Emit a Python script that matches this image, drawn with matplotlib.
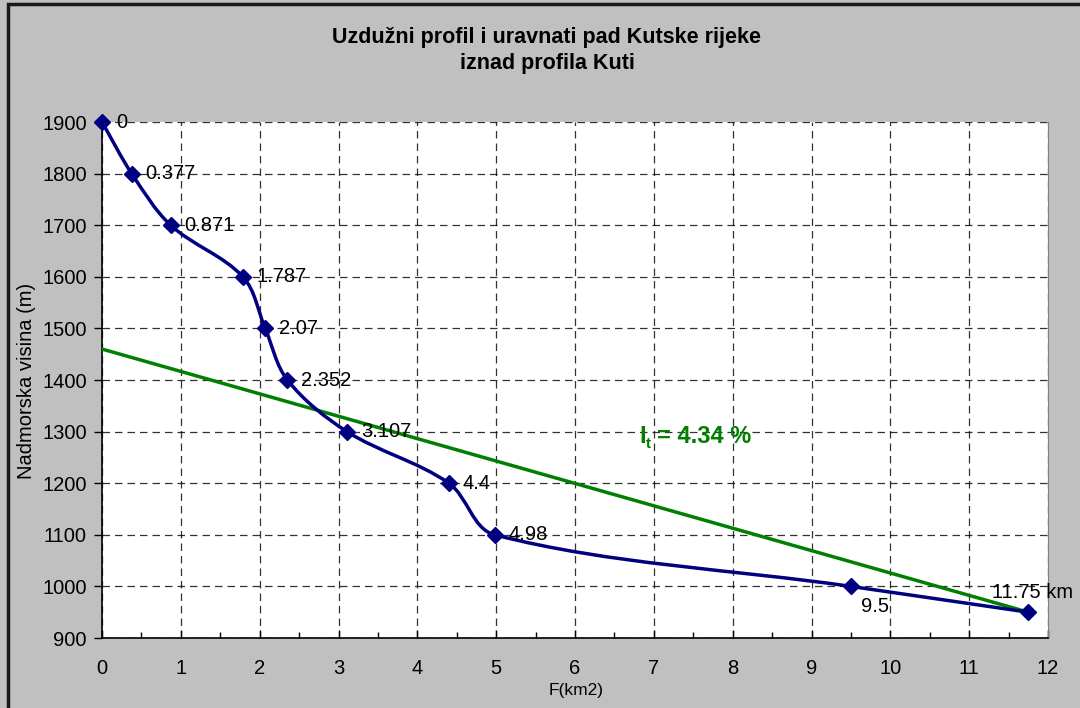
import matplotlib
matplotlib.use("Agg")
import matplotlib.pyplot as plt
from matplotlib.path import Path
from matplotlib.patches import PathPatch, Rectangle
import numpy as np

plt.rcParams['font.family'] = ['Liberation Sans', 'DejaVu Sans']

distance_km = [0, 0.377, 0.871, 1.787, 2.07, 2.352, 3.107, 4.4, 4.98, 9.5, 11.75]
elevation_m = [1900, 1800, 1700, 1600, 1500, 1400, 1300, 1200, 1100, 1000, 950]
point_labels = ["0", "0.377", "0.871", "1.787", "2.07", "2.352", "3.107", "4.4", "4.98", "9.5", "11.75 km"]
trend_x = [0, 11.75]
trend_y = [1460, 950]

W, H = 1080, 708
fig = plt.figure(figsize=(W / 100, H / 100), dpi=100)
fig.patch.set_facecolor('#c0c0c0')

# outer frame
fig.add_artist(Rectangle((8 / W, -0.1), 1.2, (H - 4) / H + 0.1, transform=fig.transFigure,
                         fill=False, edgecolor='#1a1a1a', linewidth=2.5))

l, r, b, t = 102, 1048, 638, 122
ax = fig.add_axes([l / W, (H - b) / H, (r - l) / W, (b - t) / H])
ax.set_facecolor('white')
ax.set_xlim(0, 12)
ax.set_ylim(900, 1900)
ax.set_xticks(range(0, 13))
ax.set_xticks(np.arange(0.5, 12, 1.0), minor=True)
ax.set_yticks(range(900, 1901, 100))
ax.grid(True, which='major', color='#000000', linestyle=(0, (6, 4)), linewidth=0.9, alpha=0.8)
ax.set_axisbelow(True)
ax.tick_params(axis='x', which='major', direction='in', length=6, width=1, labelsize=14.5, pad=15, colors='black')
ax.tick_params(axis='x', which='minor', direction='in', length=4, width=1)
ax.tick_params(axis='y', which='major', direction='out', length=6, width=1, labelsize=14.5, pad=5)
for s in ['left', 'bottom']:
    ax.spines[s].set_color('black')
    ax.spines[s].set_linewidth(1.2)
ax.spines['top'].set_visible(False)
ax.spines['right'].set_color('#808080')

# trend line
ax.plot(trend_x, trend_y, color='#008000', linewidth=2.5, zorder=3)

# smoothed profile line (Bezier through points, computed in pixel space)
pw, ph = (r - l), (b - t)
P = np.array([[x / 12 * pw, (y - 900) / 1000 * ph] for x, y in zip(distance_km, elevation_m)])
n = len(P)
tang = []
for i in range(n):
    a = P[i - 1] if i > 0 else P[i]
    c = P[i + 1] if i + 1 < n else P[i]
    d = c - a
    tang.append(d / np.linalg.norm(d))
verts = [P[0]]
codes = [Path.MOVETO]
for i in range(n - 1):
    p1, p2 = P[i], P[i + 1]
    seg = np.linalg.norm(p2 - p1)
    c1 = p1 + tang[i] * seg / 3
    c2 = p2 - tang[i + 1] * seg / 3
    verts += [c1, c2, p2]
    codes += [Path.CURVE4] * 3
verts = np.array(verts)
data_verts = np.column_stack([verts[:, 0] / pw * 12, verts[:, 1] / ph * 1000 + 900])
ax.add_patch(PathPatch(Path(data_verts, codes), facecolor='none', edgecolor='#000080',
                       linewidth=2.5, zorder=4))
ax.plot(distance_km, elevation_m, linestyle='none', marker='D', markersize=8,
        color='#000080', zorder=5, clip_on=False)

px2pt = 0.72
for i, (x, y, lab) in enumerate(zip(distance_km, elevation_m, point_labels)):
    if lab == "9.5":
        off = (10, -20)
    elif lab.endswith("km"):
        off = (-36, 20)
    else:
        off = (14, 0)
    ax.annotate(lab, (x, y), xytext=(off[0] * px2pt, off[1] * px2pt), textcoords='offset points',
                ha='left', va='center', fontsize=14.5, color='black', zorder=6, annotation_clip=False)

# slope annotation: I with subscript t
tx, ty = 7.55, 1290
ax.annotate("I", (tx, ty), xytext=(-58 * px2pt, 0), textcoords='offset points',
            color='#008000', fontsize=17, fontweight='bold', ha='left', va='center', zorder=6)
ax.annotate("t", (tx, ty), xytext=(-51 * px2pt, -7 * px2pt), textcoords='offset points',
            color='#008000', fontsize=11, fontweight='bold', ha='left', va='center', zorder=6)
ax.annotate("= 4.34 %", (tx, ty), xytext=(-40 * px2pt, 0), textcoords='offset points',
            color='#008000', fontsize=17, fontweight='bold', ha='left', va='center', zorder=6)

fig.text(547 / W, 1 - 38 / H, "Uzdužni profil i uravnati pad Kutske rijeke", ha='center', va='center',
         fontsize=15.5, fontweight='bold')
fig.text(547 / W, 1 - 64 / H, "iznad profila Kuti", ha='center', va='center',
         fontsize=15.5, fontweight='bold')
fig.text(27 / W, 1 - 381 / H, "Nadmorska visina (m)", rotation=90, ha='center', va='center', fontsize=14.5)
fig.text(576 / W, 1 - 691 / H, "F(km2)", ha='center', va='center', fontsize=12.5)

fig.savefig("out.png", dpi=100, facecolor=fig.get_facecolor())
